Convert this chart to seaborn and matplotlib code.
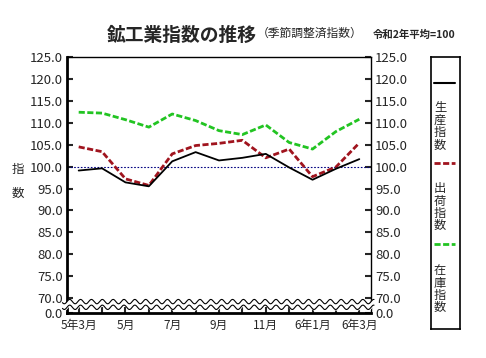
import numpy as np
import pandas as pd
import seaborn as sns
import matplotlib
matplotlib.use("Agg")
import matplotlib.pyplot as plt
import matplotlib.transforms as mtransforms

# data
months = ["5年3月", "4月", "5月", "6月", "7月", "8月", "9月", "10月", "11月", "12月", "6年1月", "2月", "6年3月"]
seisan = [99.1, 99.6, 96.4, 95.5, 101.2, 103.3, 101.4, 102.0, 102.9, 99.8, 97.0, 99.5, 101.7]
shukka = [104.5, 103.4, 97.2, 95.7, 102.9, 104.8, 105.3, 106.0, 102.0, 104.0, 97.7, 99.9, 105.4]
zaiko = [112.4, 112.2, 110.7, 109.0, 112.0, 110.5, 108.2, 107.3, 109.5, 105.5, 104.0, 108.0, 110.8]
ytick_vals = [70, 75, 80, 85, 90, 95, 100, 105, 110, 115, 120, 125]
xtick_show = ["5年3月", "5月", "7月", "9月", "11月", "6年1月", "6年3月"]

Y_BOTTOM = 66.6  # drawn as "0.0" below the axis break

sns.set_style("white")
plt.rcParams['font.family'] = ['Liberation Sans Narrow', 'Noto Sans CJK JP', 'DejaVu Sans']
JP = ['Noto Sans CJK JP', 'DejaVu Sans']

df = pd.DataFrame({"x": np.arange(len(months)), "seisan": seisan, "shukka": shukka, "zaiko": zaiko})

fig = plt.figure(figsize=(4.86, 3.58), dpi=100)
ax = fig.add_axes([67/486, 1-313/358, (371-67)/486, (313-57)/358])

ax.axhline(100, color="#000080", lw=0.8, ls=(0, (1.5, 1.5)), zorder=1)
sns.lineplot(data=df, x="x", y="zaiko", ax=ax, color="#22c422", lw=2.0, zorder=2)
sns.lineplot(data=df, x="x", y="shukka", ax=ax, color="#a0141e", lw=2.0, zorder=3)
sns.lineplot(data=df, x="x", y="seisan", ax=ax, color="black", lw=1.3, zorder=4)
ax.lines[1].set_dashes((2.2, 0.9))
ax.lines[2].set_dashes((2.2, 0.9))

ax.set_xlim(-0.5, len(months) - 0.5)
ax.set_ylim(Y_BOTTOM, 125)
ax.set_xticks(range(len(months)))
ax.set_xticklabels([m if m in xtick_show else "" for m in months])
ax.set_yticks([Y_BOTTOM] + ytick_vals)
ax.set_yticklabels(["0.0"] + ["%.1f" % v for v in ytick_vals])
ax.tick_params(axis="y", left=True, right=True, labelleft=True, labelright=True,
               direction="in", length=4, width=1.5, labelsize=9.5, pad=3)
ax.tick_params(axis="x", bottom=True, direction="in", length=4, width=1.5, labelsize=8.5, pad=4)
ax.set_xlabel("")
ax.set_ylabel("")
for s in ["left", "bottom"]:
    ax.spines[s].set_linewidth(2.0)
for s in ["top", "right"]:
    ax.spines[s].set_linewidth(1.0)
for s in ax.spines.values():
    s.set_color("black")

# axis break (wavy lines)
tr = mtransforms.blended_transform_factory(ax.transAxes, ax.transData)
wx = np.linspace(-0.015, 1.01, 400)
wave = 0.5 * np.sin(wx * 2 * np.pi * 28)
up = 69.2 + wave
lo = 67.9 + wave
ax.fill_between(wx, lo, up, color="white", transform=tr, clip_on=False, zorder=5)
ax.plot(wx, up, color="black", lw=0.8, transform=tr, clip_on=False, zorder=6)
ax.plot(wx, lo, color="black", lw=0.8, transform=tr, clip_on=False, zorder=6)

# titles
fig.text(182/486, 1-35/358, "鉱工業指数の推移", ha="center", va="center",
         fontsize=13.5, fontweight="bold", family=JP)
fig.text(310/486, 1-33/358, "（季節調整済指数）", ha="center", va="center",
         fontsize=8.5, family=JP)
fig.text(414/486, 1-35/358, "令和2年平均=100", ha="center", va="center",
         fontsize=7.5, fontweight="bold", family=JP)
fig.text(18/486, 1-181/358, "指\n\n数", ha="center", va="center", fontsize=9,
         linespacing=0.9, family=JP)

# legend box
lax = fig.add_axes([431/486, 1-329/358, 29/486, (329-57)/358])
lax.set_xlim(0, 1)
lax.set_ylim(329, 57)
lax.set_xticks([])
lax.set_yticks([])
for s in lax.spines.values():
    s.set_linewidth(1.2)
    s.set_color("black")
lax.plot([0.12, 0.82], [83, 83], color="black", lw=1.5)
lax.plot([0.12, 0.82], [163, 163], color="#a0141e", lw=2.0, dashes=(2.2, 0.9))
lax.plot([0.12, 0.82], [244, 244], color="#22c422", lw=2.0, dashes=(2.2, 0.9))
for y, t in [(101, "生\n産\n指\n数"), (182, "出\n荷\n指\n数"), (264, "在\n庫\n指\n数")]:
    lax.text(0.1, y, t, ha="left", va="top", fontsize=8.8, linespacing=0.95, family=JP)

fig.savefig("out.png", dpi=100)
